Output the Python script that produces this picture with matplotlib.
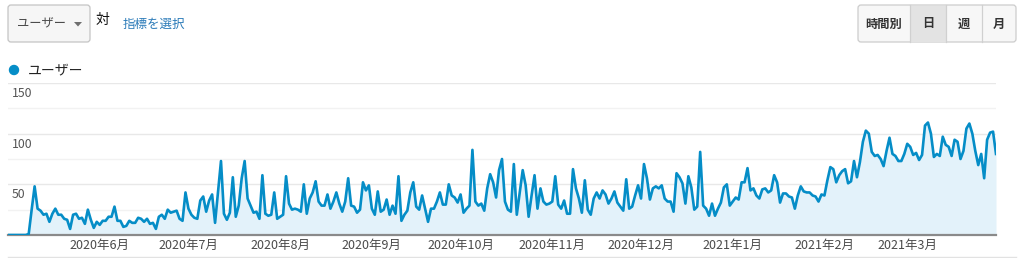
import numpy as np
import pandas as pd
import matplotlib
matplotlib.use('Agg')
import matplotlib.pyplot as plt
from matplotlib.patches import FancyBboxPatch, Polygon, Circle

plt.rcParams['font.family'] = ['Noto Sans CJK JP', 'DejaVu Sans']

# daily users, 2020-05-01 .. 2021-03-31
start_date = '2020-05-01'
users = [
    0, 0, 0, 0, 0, 0, 0, 1, 25, 48,
    26, 24, 20, 21, 13, 21, 26, 20, 20, 16,
    15, 6, 20, 21, 16, 17, 11, 25, 15, 7,
    13, 10, 14, 14, 18, 18, 28, 14, 14, 8,
    9, 14, 12, 12, 17, 16, 13, 16, 11, 12,
    6, 18, 20, 16, 25, 22, 23, 24, 16, 14,
    42, 26, 20, 17, 16, 34, 38, 23, 34, 40,
    12, 42, 73, 21, 15, 22, 57, 18, 29, 56,
    73, 36, 29, 22, 23, 16, 59, 21, 19, 20,
    42, 16, 18, 20, 58, 31, 25, 26, 25, 23,
    50, 21, 36, 42, 53, 33, 29, 29, 40, 26,
    33, 42, 31, 23, 33, 56, 29, 28, 22, 25,
    52, 44, 49, 26, 20, 43, 23, 25, 35, 20,
    29, 21, 58, 14, 20, 24, 42, 52, 28, 25,
    39, 26, 13, 26, 26, 33, 42, 30, 30, 50,
    39, 37, 32, 40, 22, 26, 29, 84, 33, 29,
    31, 24, 46, 60, 52, 37, 64, 75, 33, 25,
    23, 70, 20, 42, 64, 49, 18, 39, 59, 26,
    46, 33, 30, 31, 33, 58, 30, 26, 34, 21,
    21, 65, 46, 36, 22, 54, 25, 20, 36, 42,
    36, 44, 40, 31, 36, 43, 32, 28, 24, 55,
    26, 28, 39, 49, 36, 70, 56, 35, 46, 48,
    46, 49, 36, 33, 33, 23, 61, 57, 51, 31,
    58, 47, 25, 28, 82, 29, 26, 19, 31, 19,
    26, 32, 47, 50, 29, 33, 37, 35, 52, 52,
    66, 44, 46, 39, 36, 45, 46, 42, 44, 59,
    52, 32, 41, 41, 38, 37, 26, 39, 48, 43,
    42, 42, 39, 38, 33, 40, 39, 54, 67, 65,
    52, 59, 63, 65, 51, 53, 73, 57, 72, 92,
    103, 100, 82, 78, 79, 75, 68, 83, 96, 80,
    78, 73, 73, 80, 90, 87, 79, 81, 74, 79,
    108, 111, 100, 77, 80, 78, 97, 89, 87, 78,
    94, 92, 75, 83, 105, 110, 100, 83, 69, 80,
    56, 94, 101, 102, 80,
]
month_ticks = ['2020-06-01', '2020-07-01', '2020-08-01', '2020-09-01', '2020-10-01',
               '2020-11-01', '2020-12-01', '2021-01-01', '2021-02-01', '2021-03-01']
month_labels = ['2020年6月', '2020年7月', '2020年8月', '2020年9月', '2020年10月',
                '2020年11月', '2020年12月', '2021年1月', '2021年2月', '2021年3月']
y_labels = [50, 100, 150]
buttons = ['時間別', '日', '週', '月']

W, H = 1024, 258
fig = plt.figure(figsize=(W / 100, H / 100), dpi=100)

dates = pd.date_range(start_date, periods=len(users), freq='D')
blue = '#058dc7'

ax = fig.add_axes([8 / W, (H - 235) / H, 988 / W, 152 / H])
ax.fill_between(dates, users, 0, color='#e3f2fa', lw=0, zorder=1)
ax.plot(dates, users, color=blue, lw=1.9, zorder=3)
ax.set_xlim(dates[0], dates[-1])
ax.set_ylim(0, 150)

for v in [25, 50, 75, 100, 125, 150]:
    ax.axhline(v, color='#e8e8e8' if v % 50 == 0 else '#f2f2f2', lw=1, zorder=0)
for v in y_labels:
    ax.annotate(str(v), xy=(0, v), xycoords=('axes fraction', 'data'),
                xytext=(3, -3), textcoords='offset points', ha='left', va='top',
                fontsize=8.8, color='#555555', zorder=4)

ax.set_yticks([])
ax.set_xticks(pd.to_datetime(month_ticks))
ax.set_xticklabels(month_labels, fontsize=9, color='#4a4a4a')
ax.tick_params(axis='x', length=0, pad=2.5)
for s in ['top', 'left', 'right']:
    ax.spines[s].set_visible(False)
ax.spines['bottom'].set_color('#8a8a8a')
ax.spines['bottom'].set_linewidth(1.6)
ax.patch.set_alpha(0)

# header / chrome in pixel coordinates
ov = fig.add_axes([0, 0, 1, 1], zorder=-1)
ov.set_xlim(0, W)
ov.set_ylim(H, 0)
ov.axis('off')

ov.add_patch(FancyBboxPatch((8, 5), 82, 37, boxstyle='round,pad=0,rounding_size=3',
                            fc='#f6f6f6', ec='#c4c4c4', lw=0.9))
ov.text(17, 24, 'ユーザー', fontsize=8.8, color='#4a4a4a', va='center', ha='left')
ov.add_patch(Polygon([[74, 22], [82, 22], [78, 26.5]], closed=True, fc='#6f6f6f', ec='none'))
ov.text(96, 20, '対', fontsize=10, color='#111111', va='center', ha='left')
ov.text(123, 24, '指標を選択', fontsize=9, color='#2a7ab8', va='center', ha='left')

bx = [858, 910, 946, 982, 1016]
ov.add_patch(FancyBboxPatch((858, 5), 158, 37, boxstyle='round,pad=0,rounding_size=3',
                            fc='#f7f7f7', ec='#cccccc', lw=0.9))
ov.add_patch(plt.Rectangle((910, 5.5), 36, 36, fc='#e3e3e3', ec='none'))
for x in bx[1:-1]:
    ov.plot([x, x], [5, 42], color='#d0d0d0', lw=0.9)
for i, lab in enumerate(buttons):
    ov.text((bx[i] + bx[i + 1]) / 2, 24, lab, fontsize=8.8, color='#333333',
            va='center', ha='center', fontweight='bold')

ov.add_patch(Circle((14, 70), 4.5, color=blue))
ov.text(28, 70, 'ユーザー', fontsize=10, color='#222222', va='center', ha='left')
ov.plot([8, 1016], [257, 257], color='#e2e2e2', lw=1)

fig.savefig('out.png', dpi=100)
